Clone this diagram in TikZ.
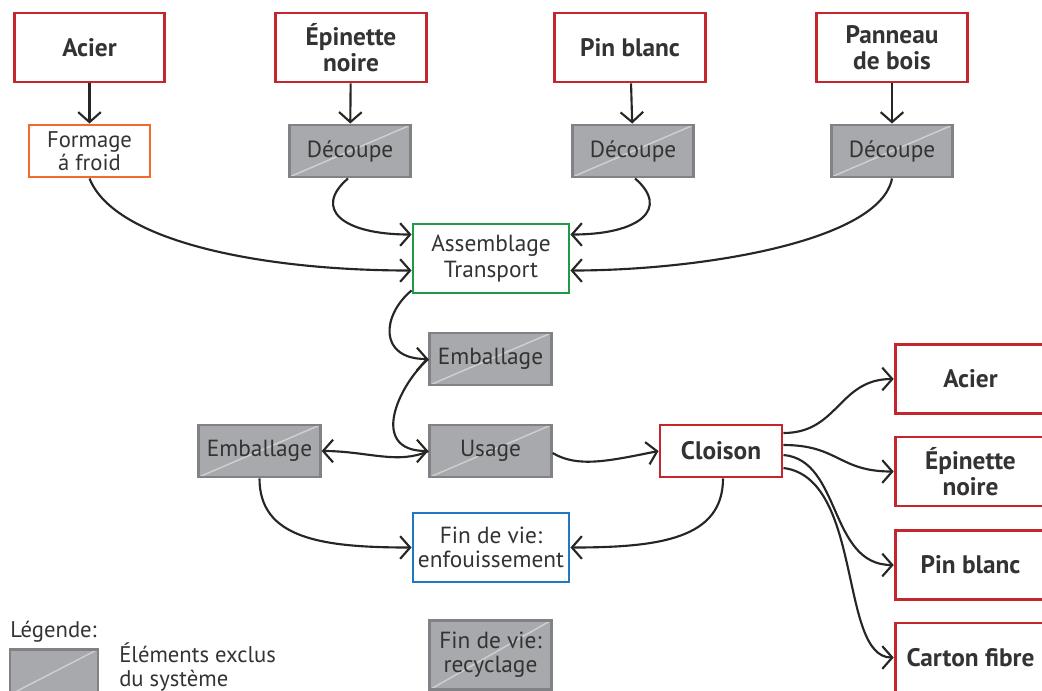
\documentclass[tikz,border=0pt]{standalone}
\usepackage{fontspec}
\setmainfont{PT Sans}
\usetikzlibrary{arrows.meta,calc}
\definecolor{cred}{HTML}{C4262E}
\definecolor{corange}{HTML}{F26B2A}
\definecolor{cgreen}{HTML}{1E9A48}
\definecolor{cblue}{HTML}{1F78C1}
\definecolor{gfill}{HTML}{A7A9AC}
\definecolor{gborder}{HTML}{808285}
\definecolor{gdiag}{HTML}{CFCFD1}
\definecolor{txt}{HTML}{333333}
\tikzset{
  base/.style={rectangle, line width=2.2pt, align=center, inner sep=0pt, text=txt},
  redbox/.style={base, draw=cred, fill=white, minimum width=113pt, minimum height=51.75pt, font=\fontsize{19}{19.5}\selectfont\bfseries},
  orangebox/.style={base, draw=corange, fill=white, minimum width=90.75pt, minimum height=39pt, font=\fontsize{17}{17}\selectfont},
  greenbox/.style={base, draw=cgreen, fill=white, minimum width=117pt, minimum height=51.75pt, font=\fontsize{17.5}{20}\selectfont},
  bluebox/.style={base, draw=cblue, fill=white, minimum width=117pt, minimum height=51.75pt, font=\fontsize{17.5}{18}\selectfont},
  greybox/.style={base, draw=gborder, fill=gfill, minimum width=91pt, minimum height=39pt, font=\fontsize{17.5}{18}\selectfont,
    path picture={\draw[gdiag, line width=1.1pt] (path picture bounding box.south west) -- (path picture bounding box.north east);}},
  conn/.style={line width=1.6pt, black!85, -{Straight Barb[length=7.5pt,width=17pt,line width=1.6pt]}},
  plain/.style={font=\fontsize{17}{17.5}\selectfont, text=txt, inner sep=0pt}
}
\begin{document}
\begin{tikzpicture}[x=0.75pt,y=-0.75pt]
\useasboundingbox (0,0) rectangle (1042,690);
\clip (0,0) rectangle (1042,690);
% top materials
\node[redbox] (acier) at (89.5,47.5) {Acier};
\node[redbox] (epin) at (351,47.5) {Épinette\\noire};
\node[redbox] (pin) at (630,47.5) {Pin blanc};
\node[redbox] (pann) at (892,47.5) {Panneau\\de bois};
% processes
\node[orangebox] (form) at (89.5,151) {Formage\\á froid};
\node[greybox] (dec1) at (350,151) {Découpe};
\node[greybox] (dec2) at (633,151) {Découpe};
\node[greybox] (dec3) at (892,151) {Découpe};
\node[greenbox] (asm) at (491,258.5) {Assemblage\\Transport};
\node[greybox] (emb1) at (490.5,359) {Emballage};
\node[greybox] (usage) at (490.5,451) {Usage};
\node[greybox] (emb2) at (259.5,451) {Emballage};
\node[redbox, minimum width=91.5pt, minimum height=39pt] (cloi) at (721,451) {Cloison};
\node[bluebox] (fin) at (491,547.5) {Fin de vie:\\enfouissement};
% right materials
\node[redbox] (racier) at (970.5,379) {Acier};
\node[redbox] (repin) at (970.5,471.5) {Épinette\\noire};
\node[redbox] (rpin) at (970.5,565) {Pin blanc};
\node[redbox] (rcart) at (970.5,657.5) {Carton fibre};
% recyclage
\node[greybox, minimum height=52pt] (recy) at (490.5,655) {Fin de vie:\\recyclage};
% legend
\node[plain, anchor=west] (leg) at (10,632) {Légende:};
\node[greybox, minimum width=66pt, minimum height=34pt] (legbox) at (54,672) {};
\node[plain, anchor=west, align=left] (legtxt) at (119,667) {Éléments exclus\\du système};
% connectors
\draw[conn] (acier) -- (form);
\draw[conn] (epin) -- (dec1);
\draw[conn] (pin) -- (dec2);
\draw[conn] (pann) -- (dec3);
\draw[conn] (form.south) .. controls +(25,63) and +(-150,0) .. ($(asm.west)+(0,12)$);
\draw[conn] ($(dec1.south)+(-2,0)$) .. controls +(-35,30) and +(-70,0) .. ($(asm.west)+(0,-24)$);
\draw[conn] ($(dec2.south)+(2,0)$) .. controls +(35,30) and +(70,0) .. ($(asm.east)+(0,-24)$);
\draw[conn] (dec3.south) .. controls +(-12,63) and +(130,0) .. ($(asm.east)+(0,12)$);
\draw[conn] ($(asm.south west)+(0,-4)$) .. controls +(-30,25) and +(-50,0) .. (emb1.west);
\draw[conn] (emb1.west) .. controls +(-30,26) and +(-60,0) .. (usage.west);
\draw[conn] (usage.west) .. controls +(-30,14) and +(45,0) .. (emb2.east);
\draw[conn] ($(usage.east)+(0,2)$) .. controls +(25,15) and +(-50,10) .. (cloi.west);
\draw[conn] (emb2.south) .. controls +(0,60) and +(-90,0) .. (fin.west);
\draw[conn] ($(cloi.south)+(2,0)$) .. controls +(0,60) and +(90,0) .. (fin.east);
\draw[conn] ($(cloi.east)+(0,-18)$) .. controls +(55,0) and +(-55,0) .. (racier.west);
\draw[conn] ($(cloi.east)+(0,-6)$) .. controls +(55,0) and +(-55,0) .. (repin.west);
\draw[conn] ($(cloi.east)+(0,4)$) .. controls +(58,5) and +(-65,0) .. (rpin.west);
\draw[conn] ($(cloi.east)+(0,17)$) .. controls +(80,10) and +(-55,0) .. (rcart.west);
\end{tikzpicture}
\end{document}
